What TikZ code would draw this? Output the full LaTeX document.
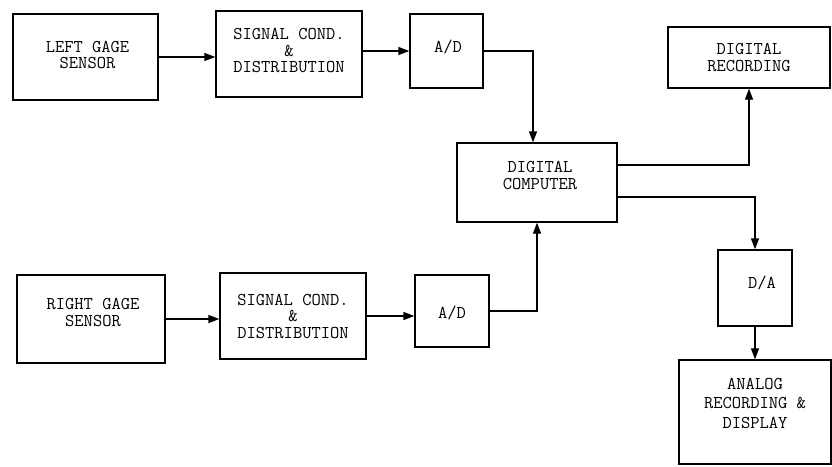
\documentclass[tikz,border=0pt]{standalone}
\usetikzlibrary{arrows.meta}
\tikzset{
  blk/.style={draw, line width=1.3pt, inner sep=0pt, rectangle},
  lbl/.style={font=\ttfamily\fontsize{18}{16.5}\selectfont, align=center, inner sep=0pt},
  conn/.style={line width=1.3pt, -{Triangle[length=11pt,width=8pt]}}
}
\begin{document}
\begin{tikzpicture}[x=1pt,y=-1pt]
\useasboundingbox (0,0) rectangle (832,466);
% boxes
\node[blk, minimum width=145pt, minimum height=86pt] (lg) at (85.5,57) {};
\node[blk, minimum width=146pt, minimum height=86pt] (sc1) at (289,54) {};
\node[blk, minimum width=73pt, minimum height=74pt] (ad1) at (446.5,51) {};
\node[blk, minimum width=162pt, minimum height=61pt] (dr) at (749,57.5) {};
\node[blk, minimum width=160pt, minimum height=79pt] (dc) at (537,182.5) {};
\node[blk, minimum width=148pt, minimum height=88pt] (rg) at (91,319) {};
\node[blk, minimum width=146pt, minimum height=86pt] (sc2) at (293,316) {};
\node[blk, minimum width=74pt, minimum height=72pt] (ad2) at (452,311) {};
\node[blk, minimum width=74pt, minimum height=76pt] (da) at (755,288) {};
\node[blk, minimum width=152pt, minimum height=104pt] (an) at (755,412) {};
% texts
\node[lbl] (lgT) at (87.5,55) {LEFT GAGE\\SENSOR};
\node[lbl] (sc1T) at (289,50.5) {SIGNAL COND.\\\&\\DISTRIBUTION};
\node[lbl] (ad1T) at (448,47) {A/D};
\node[lbl] (drT) at (749,57.5) {DIGITAL\\RECORDING};
\node[lbl] (dcT) at (540,175.5) {DIGITAL\\COMPUTER};
\node[lbl] (rgT) at (93,312.5) {RIGHT GAGE\\SENSOR};
\node[lbl] (sc2T) at (293,316) {SIGNAL COND.\\\&\\DISTRIBUTION};
\node[lbl] (ad2T) at (452,313) {A/D};
\node[lbl] (daT) at (762,283) {D/A};
\node[lbl, font=\ttfamily\fontsize{18}{19.5}\selectfont] (anT) at (755,403) {ANALOG\\RECORDING \&\\DISPLAY};
% connectors
\draw[conn] (lg.east) -- (lg.east -| sc1.west);
\draw[conn] (ad1.west -| sc1.east) -- (ad1.west);
\draw[conn] (ad1.east) -| ([xshift=-4pt]dc.north);
\draw[conn] (rg.east) -- (rg.east -| sc2.west);
\draw[conn] (sc2.east) -- (sc2.east -| ad2.west);
\draw[conn] (ad2.east) -| (dc.south);
\draw[conn] ([yshift=17.5pt]dc.east) -| (dr.south);
\draw[conn] ([yshift=-14.5pt]dc.east) -| (da.north);
\draw[conn] (da.south) -- (an.north);
\end{tikzpicture}
\end{document}
